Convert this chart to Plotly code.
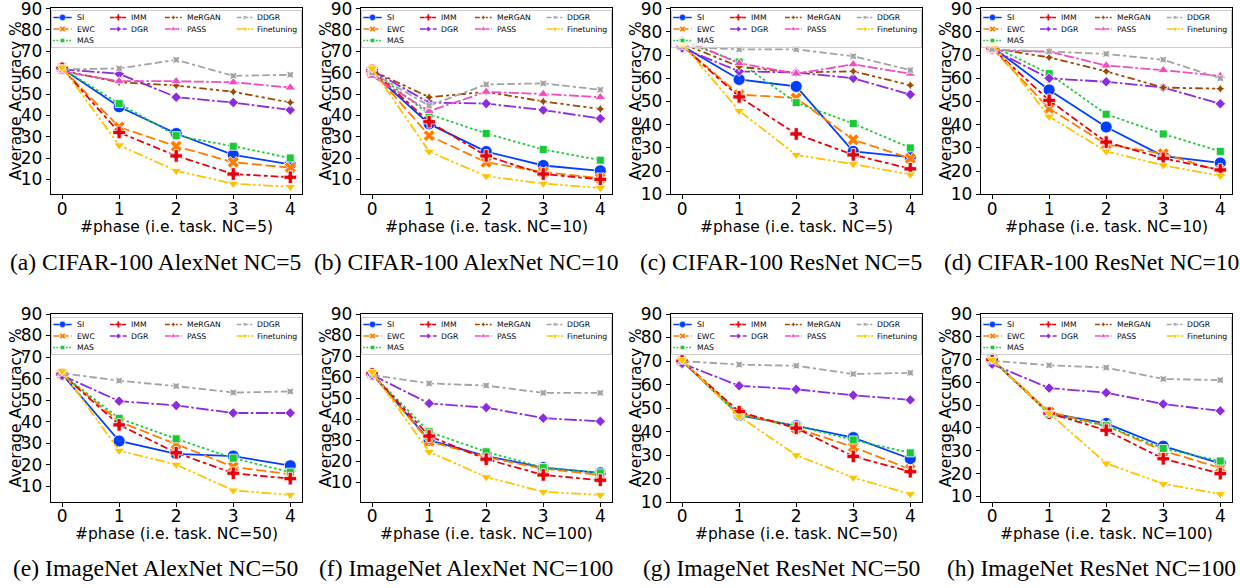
import plotly.graph_objects as go

PHASES = [0, 1, 2, 3, 4]
METHODS = ["SI", "EWC", "MAS", "IMM", "DGR", "MeRGAN", "PASS", "DDGR", "Finetuning"]

# (a) CIFAR-100 AlexNet NC=5
cifar_alex_5 = {
    "SI": [62, 44, 31.5, 21.5, 17],
    "EWC": [62, 34.5, 25.5, 18, 15.5],
    "MAS": [62, 45.5, 30.5, 25.5, 20],
    "IMM": [62, 32, 21, 12.5, 11],
    "DGR": [61.5, 59.5, 48.5, 46, 42.5],
    "MeRGAN": [61, 55.5, 54, 51, 46],
    "PASS": [60.5, 56, 56, 55.5, 53],
    "DDGR": [61.5, 62, 66, 58.5, 59],
    "Finetuning": [62.5, 26, 14, 8, 6.5],
}
# (b) CIFAR-100 AlexNet NC=10
cifar_alex_10 = {
    "SI": [60, 36, 23, 16.5, 14],
    "EWC": [61, 30.5, 18, 13.5, 10.5],
    "MAS": [61, 40.5, 31.5, 24, 19],
    "IMM": [61, 37, 21, 12.5, 10],
    "DGR": [61, 46, 45.5, 42.5, 38.5],
    "MeRGAN": [61, 48.5, 51, 46.5, 43],
    "PASS": [58.5, 42, 51, 50, 48.5],
    "DDGR": [60, 44.5, 54.5, 55, 52],
    "Finetuning": [62, 23, 11.5, 8, 6],
}
# (c) CIFAR-100 ResNet NC=5
cifar_res_5 = {
    "SI": [74, 59.5, 56.5, 28.5, 26],
    "EWC": [74, 53, 51.5, 33.5, 25.5],
    "MAS": [76, 67, 49.5, 40.5, 30],
    "IMM": [74, 52, 36, 27, 21],
    "DGR": [73, 63, 62.5, 60, 53],
    "MeRGAN": [75, 65, 62.5, 63, 57],
    "PASS": [77, 66.5, 62, 66, 62],
    "DDGR": [73.5, 72.5, 72.5, 69.5, 63.5],
    "Finetuning": [75, 46, 27, 23, 18.5],
}
# (d) CIFAR-100 ResNet NC=10
cifar_res_10 = {
    "SI": [73.5, 55, 39, 26.5, 23.5],
    "EWC": [73, 47, 31.5, 27.5, 20],
    "MAS": [74, 62, 44.5, 36, 28.5],
    "IMM": [73, 50.5, 32.5, 25.5, 20.5],
    "DGR": [72.5, 60, 58.5, 56, 49],
    "MeRGAN": [73, 69, 63, 56, 55.5],
    "PASS": [72, 71.5, 65.5, 63.5, 61],
    "DDGR": [72.5, 71.5, 70.5, 68, 60],
    "Finetuning": [75, 43.5, 28.5, 22.5, 18],
}
# (e) ImageNet AlexNet NC=50
imagenet_alex_50 = {
    "SI": [62, 31, 25, 24, 19.5],
    "EWC": [62, 40, 29.5, 19, 15.5],
    "MAS": [62, 41.5, 32, 23, 16.5],
    "IMM": [62, 38.5, 25.5, 16, 13.5],
    "DGR": [61.5, 49.5, 47.5, 44, 44],
    "DDGR": [62.5, 59, 56.5, 53.5, 54],
    "Finetuning": [63.5, 26.5, 20, 8, 6],
}
# (f) ImageNet AlexNet NC=100
imagenet_alex_100 = {
    "SI": [61.5, 30, 22.5, 17, 14.5],
    "EWC": [61.5, 29.5, 22, 16.5, 13.5],
    "MAS": [61.5, 34, 24.5, 17, 14.5],
    "IMM": [61.5, 32, 21, 13.5, 11],
    "DGR": [61, 47.5, 45.5, 40.5, 39],
    "DDGR": [61, 57, 56, 52.5, 52.5],
    "Finetuning": [62.5, 24.5, 12.5, 5.5, 4],
}
# (g) ImageNet ResNet NC=50
imagenet_res_50 = {
    "SI": [70, 47, 42.5, 37.5, 28.5],
    "EWC": [70, 48, 41.5, 33.5, 24],
    "MAS": [70, 47, 42.5, 36.5, 31],
    "IMM": [70, 48.5, 41.5, 29.5, 23],
    "DGR": [69, 59.5, 58, 55.5, 53.5],
    "DDGR": [70, 68.5, 68, 64.5, 65],
    "Finetuning": [70.5, 46.5, 30, 20.5, 13.5],
}
# (h) ImageNet ResNet NC=100
imagenet_res_100 = {
    "SI": [70, 46.5, 42, 32, 24.5],
    "EWC": [70, 47, 41, 30, 22.5],
    "MAS": [70, 46, 41, 31, 25.5],
    "IMM": [70, 46.5, 39, 26.5, 20],
    "DGR": [68, 57.5, 55.5, 50.5, 47.5],
    "DDGR": [69.5, 67.5, 66.5, 61.5, 61],
    "Finetuning": [70, 46.5, 24.5, 15.5, 11],
}

PANELS = [cifar_alex_5, cifar_alex_10, cifar_res_5, cifar_res_10,
          imagenet_alex_50, imagenet_alex_100, imagenet_res_50, imagenet_res_100]
CAPTIONS = ["(a) CIFAR-100 AlexNet NC=5", "(b) CIFAR-100 AlexNet NC=10",
            "(c) CIFAR-100 ResNet NC=5", "(d) CIFAR-100 ResNet NC=10",
            "(e) ImageNet AlexNet NC=50", "(f) ImageNet AlexNet NC=100",
            "(g) ImageNet ResNet NC=50", "(h) ImageNet ResNet NC=100"]
XTITLES = ["#phase (i.e. task. NC=5)", "#phase (i.e. task. NC=10)",
           "#phase (i.e. task. NC=5)", "#phase (i.e. task. NC=10)",
           "#phase (i.e. task. NC=50)", "#phase (i.e. task. NC=100)",
           "#phase (i.e. task. NC=50)", "#phase (i.e. task. NC=100)"]
YTITLE = "Average Accuracy %"
YRANGES = [(3, 90.3), (3, 90.3), (10, 90.3), (10, 90.3), (2.5, 90), (0.5, 90), (10, 90), (7.4, 90)]

# ---- styles (seaborn "bright" palette, seaborn default dashes / markers)
COLORS = {"SI": "#023eff", "EWC": "#ff7c00", "MAS": "#1ac938", "IMM": "#e8000b",
          "DGR": "#8b2be2", "MeRGAN": "#9f4800", "PASS": "#f14cc1", "DDGR": "#a3a3a3",
          "Finetuning": "#ffc400"}
DASH_UNITS = {"SI": None, "EWC": (4, 1.5), "MAS": (1, 1), "IMM": (3, 1.25, 1.5, 1.25),
              "DGR": (5, 1, 1, 1), "MeRGAN": (3, 1.25, 1.25, 1.25, 1.25, 1.25),
              "PASS": (4, 1, 4, 1, 1, 1), "DDGR": (3, 1.25, 3, 1.25, 1.25, 1.25),
              "Finetuning": (4, 1, 1, 1, 1, 1)}
SYMBOLS = {"SI": ("circle", 12), "EWC": ("x", 10.5), "MAS": ("square", 8), "IMM": ("cross", 10.5),
           "DGR": ("diamond", 8), "MeRGAN": ("star-diamond", 7), "PASS": ("triangle-up", 9.5),
           "DDGR": ("star-square", 7), "Finetuning": ("triangle-down", 9.5)}
LEGEND_MARKER_SCALE = 0.52


def dash(name, scale):
    u = DASH_UNITS[name]
    if u is None:
        return "solid"
    return ",".join(f"{v * scale:.2f}px" for v in u)


W, H = 1240, 588
FONT = "DejaVu Sans"
BOX_LEFT0, COL_STEP, BOX_W = 50.7, 310, 251
ROW_TOP, ROW_H = [8, 314], [186.3, 188.3]
CAP_X = [155, 466, 781, 1091]
CAP_Y = [262, 568]
XTITLE_DY = [32.5, 31.5]     # below plot box
XTICK_STANDOFF = [-5, -6]
YTITLE_DX = 34.7             # left of plot box

# legend box (px, relative to plot box) and entry positions inside it
LEG_DX0, LEG_DX1, LEG_DY0, LEG_DY1 = 1.0, -0.7, [2.5, 3.5], [38.5, 39.5]
LEG_W = BOX_W - LEG_DX0 + LEG_DX1
LEG_H = 36
LEG_CELL = {"SI": (0, 0), "EWC": (0, 1), "MAS": (0, 2), "IMM": (1, 0), "DGR": (1, 1),
            "MeRGAN": (2, 0), "PASS": (2, 1), "DDGR": (3, 0), "Finetuning": (3, 1)}
LEG_LINE_X = [(1.6, 20), (58.3, 75), (113.3, 130), (185, 201.6)]
LEG_TEXT_X = [24, 78.5, 134, 204.6]
LEG_ROW_Y = [6.9, 18.5, 30]


def px_x(v):
    return v / W


def px_y(v):
    return 1 - v / H


fig = go.Figure()
layout = {}
annotations = []

for i, panel in enumerate(PANELS):
    row, col = divmod(i, 4)
    left = BOX_LEFT0 + col * COL_STEP
    top = ROW_TOP[row]
    box_h = ROW_H[row]
    n = "" if i == 0 else str(i + 1)
    xr, yr = "x" + n, "y" + n

    for m in METHODS:
        if m not in panel:
            continue
        sym, size = SYMBOLS[m]
        fig.add_trace(go.Scatter(
            x=PHASES, y=panel[m], xaxis=xr, yaxis=yr, mode="lines+markers", name=m,
            showlegend=False,
            line=dict(color=COLORS[m], width=1.8, dash=dash(m, 2.5)),
            marker=dict(symbol=sym, size=size, color=COLORS[m], line=dict(color="white", width=0.8)),
        ))

    layout["xaxis" + n] = dict(
        domain=[px_x(left), px_x(left + BOX_W)], range=[-0.2, 4.2], tickvals=PHASES,
        anchor=yr, ticks="outside", ticklen=4, tickcolor="black", showline=True,
        linecolor="black", linewidth=1, mirror=True, showgrid=False, zeroline=False,
        tickfont=dict(size=17, color="black"), ticklabeloverflow="allow",
        ticklabelstandoff=XTICK_STANDOFF[row],
    )
    layout["yaxis" + n] = dict(
        domain=[px_y(top + box_h), px_y(top)], range=list(YRANGES[i]), tick0=10, dtick=10,
        anchor=xr, ticks="outside", ticklen=4, tickcolor="black", showline=True,
        linecolor="black", linewidth=1, mirror=True, showgrid=False, zeroline=False,
        tickfont=dict(size=17, color="black"), ticklabeloverflow="allow",
    )
    # axis titles
    annotations.append(dict(
        x=px_x(left + BOX_W / 2), y=px_y(top + box_h + XTITLE_DY[row]), xref="paper", yref="paper",
        text=XTITLES[i], showarrow=False, xanchor="center", yanchor="middle",
        font=dict(family=FONT, size=15.5, color="black"),
    ))
    annotations.append(dict(
        x=px_x(left - YTITLE_DX), y=px_y(top + box_h / 2), xref="paper", yref="paper",
        text=YTITLE, textangle=-90, showarrow=False, xanchor="center", yanchor="middle",
        font=dict(family=FONT, size=15.5, color="black"),
    ))

    # legend panel drawn on its own small axes on top of the plot box
    ln = str(i + 9)
    lxr, lyr = "x" + ln, "y" + ln
    layout["xaxis" + ln] = dict(
        domain=[px_x(left + LEG_DX0), px_x(left + BOX_W + LEG_DX1)], range=[0, LEG_W],
        anchor=lyr, showline=True, mirror=True, linecolor="#cccccc", linewidth=1,
        showticklabels=False, ticks="", showgrid=False, zeroline=False, fixedrange=True,
    )
    layout["yaxis" + ln] = dict(
        domain=[px_y(top + LEG_DY1[row]), px_y(top + LEG_DY0[row])], range=[LEG_H, 0],
        anchor=lxr, showline=True, mirror=True, linecolor="#cccccc", linewidth=1,
        showticklabels=False, ticks="", showgrid=False, zeroline=False, fixedrange=True,
    )
    for m in METHODS:
        c, r = LEG_CELL[m]
        x0, x1 = LEG_LINE_X[c]
        ry = LEG_ROW_Y[r]
        sym, size = SYMBOLS[m]
        fig.add_trace(go.Scatter(
            x=[x0, (x0 + x1) / 2, x1], y=[ry, ry, ry], xaxis=lxr, yaxis=lyr,
            mode="lines+markers", showlegend=False, hoverinfo="skip",
            line=dict(color=COLORS[m], width=1.5, dash=dash(m, 1.6)),
            marker=dict(symbol=sym, size=size * LEGEND_MARKER_SCALE, color=COLORS[m],
                        opacity=[0, 1, 0], line=dict(color="white", width=0.5)),
        ))
        annotations.append(dict(
            x=LEG_TEXT_X[c], y=ry, xref=lxr, yref=lyr, text=m, showarrow=False,
            xanchor="left", yanchor="middle", borderpad=0,
            font=dict(family=FONT, size=7.7, color="black"),
        ))

    annotations.append(dict(
        x=px_x(CAP_X[col]), y=px_y(CAP_Y[row]), xref="paper", yref="paper", text=CAPTIONS[i],
        showarrow=False, xanchor="center", yanchor="middle",
        font=dict(family="Liberation Serif", size=23.6, color="black"),
    ))

fig.update_layout(
    width=W, height=H, margin=dict(l=0, r=0, t=0, b=0, autoexpand=False),
    paper_bgcolor="white", plot_bgcolor="rgba(255,255,255,0.8)",
    font=dict(family=FONT, color="black"),
    annotations=annotations, showlegend=False,
    **layout,
)

fig.write_html("out.html", config={"displayModeBar": False},
               post_script="document.body.style.margin='0px';")
